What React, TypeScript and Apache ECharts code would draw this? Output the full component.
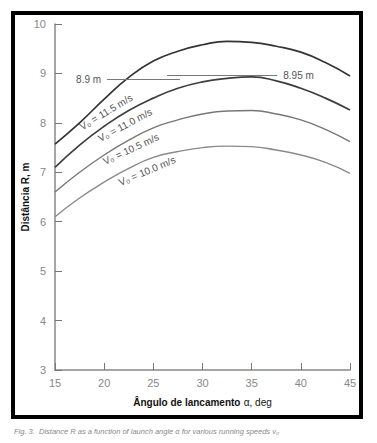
import React, { useEffect, useRef } from "react";
import * as echarts from "echarts";

const angles = [15, 17.5, 20, 22.5, 25, 27.5, 30, 32.5, 35, 37.5, 40, 42.5, 45];
const v115 = [7.57, 8.0, 8.48, 8.92, 9.25, 9.45, 9.58, 9.65, 9.63, 9.55, 9.43, 9.22, 8.95];
const v110 = [7.1, 7.55, 7.93, 8.25, 8.5, 8.7, 8.83, 8.9, 8.93, 8.85, 8.7, 8.5, 8.26];
const v105 = [6.6, 7.0, 7.35, 7.65, 7.9, 8.06, 8.18, 8.24, 8.25, 8.18, 8.06, 7.87, 7.62];
const v100 = [6.1, 6.48, 6.8, 7.08, 7.3, 7.42, 7.5, 7.53, 7.52, 7.45, 7.35, 7.2, 6.98];
const seriesLabels = ["V₀ = 11.5 m/s", "V₀ = 11.0 m/s", "V₀ = 10.5 m/s", "V₀ = 10.0 m/s"];
const seriesValues = [v115, v110, v105, v100];
const seriesColors = ["#333333", "#3e3e3e", "#777777", "#8a8a8a"];

// reference lines: [xStart, xEnd, y]
const refLine1 = [20.3, 27.7, 8.88];
const refLine1Label = "8.9 m";
const refLine2 = [26.4, 37.6, 8.96];
const refLine2Label = "8.95 m";

const xLabel = "Ângulo de lancamento";
const xLabelUnit = "α, deg";
const yLabel = "Distância R, m";
const caption = "Fig. 3.  Distance R as a function of launch angle α for various running speeds v₀";

const FONT = "Liberation Sans";

export default function App() {
  const ref = useRef<HTMLDivElement>(null);
  useEffect(() => {
    if (!ref.current) return;
    const chart = echarts.init(ref.current, undefined, { renderer: "svg" });
    const series: any[] = seriesValues.map((vals, i) => ({
      type: "line",
      name: seriesLabels[i],
      data: angles.map((a, j) => [a, vals[j]]),
      smooth: true,
      showSymbol: false,
      lineStyle: { color: seriesColors[i], width: i < 2 ? 1.7 : 1.4 },
      z: 3,
    }));
    series.push({
      type: "line",
      data: [],
      markLine: {
        silent: true,
        symbol: ["none", "none"],
        lineStyle: { color: "#777", width: 1, type: "solid" },
        label: { color: "#555", fontSize: 10, fontFamily: FONT, distance: 6 },
        data: [
          [
            { coord: [refLine1[0], refLine1[2]], label: { position: "start", formatter: refLine1Label } },
            { coord: [refLine1[1], refLine1[2]] },
          ],
          [
            { coord: [refLine2[0], refLine2[2]], label: { position: "end", formatter: refLine2Label } },
            { coord: [refLine2[1], refLine2[2]] },
          ],
        ],
      },
    });
    const curveLabelPos = [
      { x: 106, y: 112, r: 31 },
      { x: 125, y: 125, r: 28 },
      { x: 131, y: 149, r: 25 },
      { x: 147, y: 171, r: 23 },
    ];
    chart.setOption({
      animation: false,
      grid: { left: 55, right: 27, top: 24, bottom: 73 },
      xAxis: {
        type: "value",
        min: 15,
        max: 45,
        interval: 5,
        splitLine: { show: false },
        axisLine: { lineStyle: { color: "#888", width: 1.5 } },
        axisTick: { inside: true, length: 7, lineStyle: { color: "#777" } },
        axisLabel: { color: "#888", fontSize: 11, fontFamily: FONT, margin: 7 },
        name: `{b|${xLabel}} {n|${xLabelUnit}}`,
        nameLocation: "middle",
        nameGap: 26,
        nameMoveOverlap: false,
        nameTextStyle: {
          rich: {
            b: { fontSize: 10, fontWeight: "bold", fontFamily: FONT, color: "#111" },
            n: { fontSize: 10, fontFamily: FONT, color: "#111" },
          },
        },
      },
      yAxis: {
        type: "value",
        min: 3,
        max: 10,
        interval: 1,
        splitLine: { show: false },
        axisLine: { show: true, lineStyle: { color: "#888", width: 1.5 } },
        axisTick: { show: true, inside: true, length: 7, lineStyle: { color: "#777" } },
        axisLabel: { color: "#888", fontSize: 11, fontFamily: FONT, margin: 9 },
        name: yLabel,
        nameLocation: "middle",
        nameGap: 25,
        nameMoveOverlap: false,
        nameTextStyle: { fontSize: 10, fontWeight: "bold", fontFamily: FONT, color: "#111" },
      },
      series,
      graphic: [
        {
          type: "rect",
          shape: { x: 13, y: 13, width: 348, height: 404 },
          style: { fill: "none", stroke: "#000", lineWidth: 4 },
          z: 10,
        },
        {
          type: "text",
          x: 14,
          y: 431,
          style: {
            text: caption,
            fill: "#888",
            fontSize: 7.5,
            fontStyle: "italic",
            fontFamily: FONT,
            textVerticalAlign: "middle",
          },
        },
        ...curveLabelPos.map((p, i) => ({
          type: "text",
          x: p.x,
          y: p.y,
          rotation: (p.r * Math.PI) / 180,
          style: {
            text: seriesLabels[i],
            fill: "#555",
            fontSize: 10,
            fontFamily: FONT,
            textAlign: "center",
            textVerticalAlign: "middle",
          },
        })),
      ],
    });
    return () => chart.dispose();
  }, []);
  return (
    <div
      ref={ref}
      style={{ position: "absolute", left: 0, top: 0, width: 377, height: 443, background: "#fff" }}
    />
  );
}
